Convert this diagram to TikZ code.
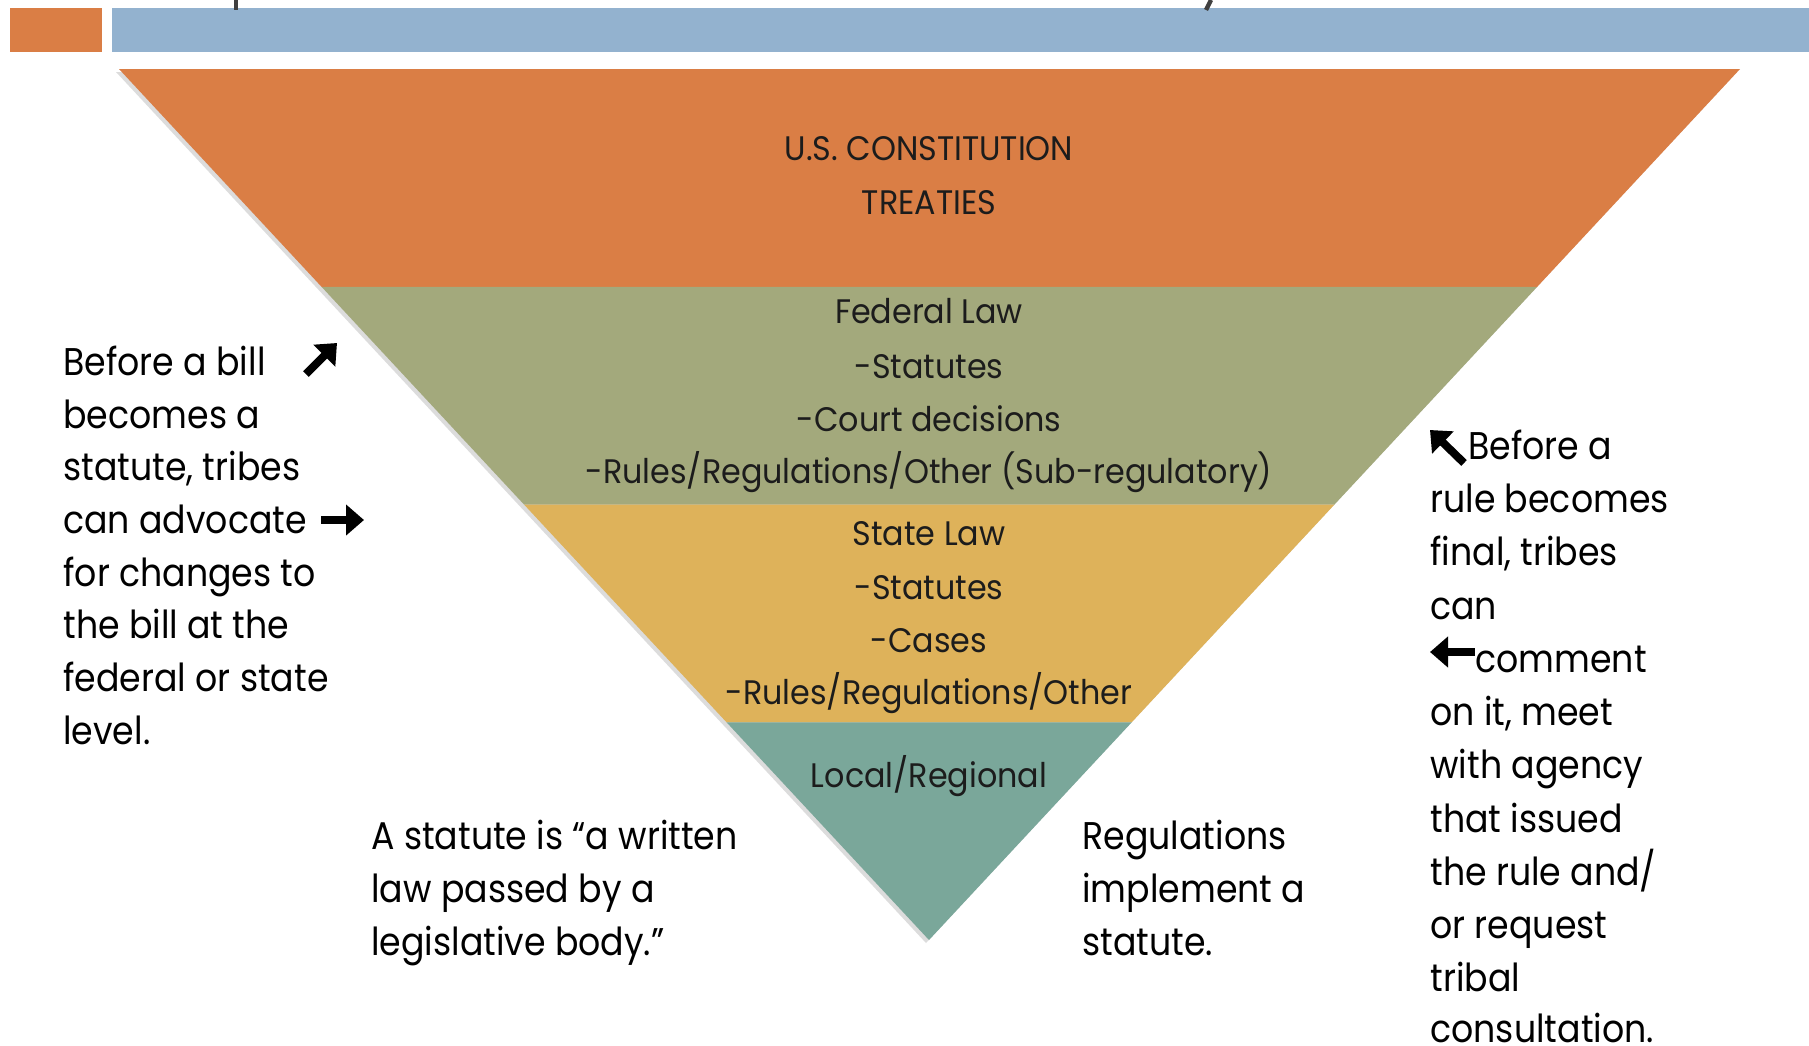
\documentclass[tikz,border=0pt]{standalone}
\usepackage{fontspec}
\setmainfont{Poppins}
\newfontfamily\sidefont[FakeStretch=0.9]{Poppins}
\newfontfamily\innerfont[FakeStretch=0.935]{Poppins}
\usetikzlibrary{arrows.meta,calc}
\definecolor{cOrange}{RGB}{218,126,69}
\definecolor{cGreen}{RGB}{163,169,124}
\definecolor{cYellow}{RGB}{222,178,90}
\definecolor{cTeal}{RGB}{122,167,154}
\definecolor{cBlue}{RGB}{147,178,207}
\definecolor{cText}{RGB}{28,28,28}
\begin{document}
\begin{tikzpicture}[x=0.5pt,y=-0.5pt,
  inner/.style={anchor=base,inner sep=0pt,text=cText,font=\innerfont\fontsize{17}{20}\selectfont},
  side/.style={anchor=base west,inner sep=0pt,text=black,font=\sidefont\fontsize{19.3}{24}\selectfont},
  bigarrow/.style={line width=4pt,-{Triangle[length=9pt,width=15pt]},black}]
\useasboundingbox (0,0) rectangle (1809,1045);
\fill[white] (0,0) rectangle (1809,1045);
% header bars
\fill[cOrange] (10,8) rectangle (102,52);
\fill[cBlue] (112,8) rectangle (1809,52);
\draw[line width=2.2pt,black!75] (236,0) -- (236,10);
\draw[line width=2.2pt,black!75] (1211,0) -- (1206,10);
% triangle
\coordinate (TL) at (119,69);
\coordinate (TR) at (1740,69);
\coordinate (A) at (929,940);
\coordinate (L1) at ($(TL)!0.25!(A)$);
\coordinate (R1) at ($(TR)!0.25!(A)$);
\coordinate (L2) at ($(TL)!0.5!(A)$);
\coordinate (R2) at ($(TR)!0.5!(A)$);
\coordinate (L3) at ($(TL)!0.75!(A)$);
\coordinate (R3) at ($(TR)!0.75!(A)$);
\fill[black!30,opacity=0.45] ([shift={(-3,3)}]TL) -- ([shift={(-3,3)}]TR) -- ([shift={(-3,3)}]A) -- cycle;
\fill[cOrange] (TL) -- (TR) -- (R1) -- (L1) -- cycle;
\fill[cGreen] (L1) -- (R1) -- (R2) -- (L2) -- cycle;
\fill[cYellow] (L2) -- (R2) -- (R3) -- (L3) -- cycle;
\fill[cTeal] (L3) -- (R3) -- (A) -- cycle;
% triangle text
\node[inner] (t1) at (929,160) {U.S. CONSTITUTION};
\node[inner] (t2) at (929,214) {TREATIES};
\node[inner] (f1) at (929,323) {Federal Law};
\node[inner] (f2) at (929,378) {-Statutes};
\node[inner] (f3) at (929,431) {-Court decisions};
\node[inner] (f4) at (929,483) {-Rules/Regulations/Other (Sub-regulatory)};
\node[inner] (s1) at (929,545) {State Law};
\node[inner] (s2) at (929,599) {-Statutes};
\node[inner] (s3) at (929,652) {-Cases};
\node[inner] (s4) at (929,704) {-Rules/Regulations/Other};
\node[inner] (r1) at (929,787) {Local/Regional};
% left text
\node[side] (a1) at (63,375) {Before a bill};
\node[side] (a2) at (63,428) {becomes a};
\node[side] (a3) at (63,480) {statute, tribes};
\node[side] (a4) at (63,533) {can advocate};
\node[side] (a5) at (63,586) {for changes to};
\node[side] (a6) at (63,638) {the bill at the};
\node[side] (a7) at (63,691) {federal or state};
\node[side] (a8) at (63,744) {level.};
\coordinate (ar1s) at (306,374);
\coordinate (ar1e) at (337,343);
\draw[bigarrow] (ar1s) -- (ar1e);
\coordinate (ar2s) at (321,520);
\coordinate (ar2e) at (364,520);
\draw[bigarrow] (ar2s) -- (ar2e);
% right text
\node[side] (b1) at (1468,459) {Before a};
\node[side] (b2) at (1430,512) {rule becomes};
\node[side] (b3) at (1430,565) {final, tribes};
\node[side] (b4) at (1430,619) {can};
\node[side] (b5) at (1475,672) {comment};
\node[side] (b6) at (1430,725) {on it, meet};
\node[side] (b7) at (1430,778) {with agency};
\node[side] (b8) at (1430,832) {that issued};
\node[side] (b9) at (1430,885) {the rule and/};
\node[side] (b10) at (1430,938) {or request};
\node[side] (b11) at (1430,991) {tribal};
\node[side] (b12) at (1430,1042) {consultation.};
\coordinate (ar3s) at (1464,463);
\coordinate (ar3e) at (1430,430);
\draw[bigarrow] (ar3s) -- (ar3e);
\coordinate (ar4s) at (1475,652);
\coordinate (ar4e) at (1430,652);
\draw[bigarrow] (ar4s) -- (ar4e);
% bottom texts
\node[side] (c1) at (371,849) {A statute is “a written};
\node[side] (c2) at (371,902) {law passed by a};
\node[side] (c3) at (371,955) {legislative body.”};
\node[side] (d1) at (1082,849) {Regulations};
\node[side] (d2) at (1082,902) {implement a};
\node[side] (d3) at (1082,955) {statute.};
\end{tikzpicture}
\end{document}
